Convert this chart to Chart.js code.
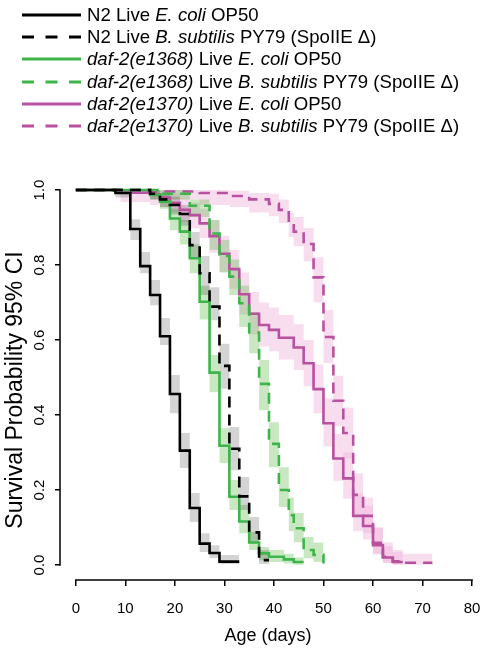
<!DOCTYPE html>
<html>
<head>
<meta charset="utf-8">
<script src="https://cdn.jsdelivr.net/npm/chart.js@4.4.1/dist/chart.umd.min.js"></script>
<style>
  html, body { margin: 0; padding: 0; background: #fff; }
  #wrap { position: relative; width: 480px; height: 654px; font-family: "Liberation Sans", Arial, sans-serif; }
  .row { position: absolute; left: 22px; height: 22px; display: flex; align-items: center; font-size: 18.6px; color: #000; white-space: nowrap; }
  .row svg { margin-right: 6px; flex: none; }
  canvas { position: absolute; left: 0; top: 0; }
</style>
</head>
<body>
<div id="wrap">
  <canvas id="survChart" width="480" height="654"></canvas>
  <div id="legend"></div>
</div>
<script>
// axis ticks
const xTicks = [0, 10, 20, 30, 40, 50, 60, 70, 80];
const yTicks = [0, 0.2, 0.4, 0.6, 0.8, 1.0];

// N2 Live E. coli OP50
const n2EcoliT     = [0, 8, 11, 13, 15, 17, 19, 21, 23, 25, 27, 29, 33];
const n2EcoliS     = [1, 0.992, 0.896, 0.797, 0.72, 0.61, 0.456, 0.305, 0.152, 0.057, 0.032, 0.009, 0.009];
const n2EcoliLo    = [1, 0.98, 0.867, 0.778, 0.693, 0.587, 0.405, 0.259, 0.115, 0.035, 0.019, 0.003, 0.003];
const n2EcoliHi    = [1, 1, 0.922, 0.835, 0.76, 0.659, 0.507, 0.352, 0.192, 0.085, 0.053, 0.027, 0.027];

// N2 Live B. subtilis PY79
const n2BsubT      = [0, 15, 17, 19, 21, 23, 25, 27, 29, 31, 33, 35, 37, 39];
const n2BsubS      = [1, 0.99, 0.975, 0.96, 0.936, 0.853, 0.778, 0.689, 0.531, 0.31, 0.183, 0.087, 0.013, 0.013];
const n2BsubLo     = [1, 0.975, 0.955, 0.935, 0.905, 0.821, 0.72, 0.653, 0.47, 0.253, 0.147, 0.059, 0.003, 0.003];
const n2BsubHi     = [1, 1, 0.99, 0.982, 0.96, 0.888, 0.824, 0.741, 0.59, 0.368, 0.235, 0.128, 0.04, 0.04];

// daf-2(e1368) Live E. coli OP50
const d1368EcoliT  = [0, 15, 17, 19, 21, 23, 25, 27, 29, 31, 33, 35, 37, 39, 42, 44, 46];
const d1368EcoliS  = [1, 0.987, 0.969, 0.924, 0.889, 0.818, 0.702, 0.513, 0.318, 0.182, 0.116, 0.06, 0.031, 0.022, 0.015, 0.008, 0.008];
const d1368EcoliLo = [1, 0.975, 0.95, 0.893, 0.855, 0.778, 0.655, 0.461, 0.272, 0.147, 0.085, 0.04, 0.013, 0.008, 0.004, 0.001, 0.001];
const d1368EcoliHi = [1, 0.998, 0.985, 0.95, 0.92, 0.855, 0.745, 0.56, 0.365, 0.227, 0.16, 0.088, 0.048, 0.04, 0.03, 0.02, 0.02];

// daf-2(e1368) Live B. subtilis PY79
const d1368BsubT   = [0, 17, 23, 27, 29, 31, 33, 35, 37, 39, 41, 43, 44, 46, 48, 50];
const d1368BsubS   = [1, 0.99, 0.958, 0.884, 0.824, 0.769, 0.698, 0.62, 0.483, 0.323, 0.2, 0.133, 0.098, 0.04, 0.027, 0.004];
const d1368BsubLo  = [1, 0.975, 0.928, 0.84, 0.78, 0.72, 0.635, 0.565, 0.413, 0.261, 0.155, 0.09, 0.061, 0.018, 0.008, 0.001];
const d1368BsubHi  = [1, 1, 0.975, 0.92, 0.867, 0.815, 0.745, 0.675, 0.547, 0.381, 0.261, 0.18, 0.139, 0.075, 0.06, 0.02];

// daf-2(e1370) Live E. coli OP50
const d1370EcoliT  = [0, 9, 15, 17, 19, 21, 23, 25, 27, 29, 31, 33, 35, 37, 39, 41, 44, 46, 48, 50, 52, 54, 56, 58, 60, 62, 64, 66];
const d1370EcoliS  = [1, 0.993, 0.988, 0.98, 0.966, 0.947, 0.933, 0.911, 0.877, 0.83, 0.789, 0.722, 0.67, 0.64, 0.627, 0.606, 0.58, 0.538, 0.469, 0.378, 0.284, 0.231, 0.131, 0.104, 0.053, 0.02, 0.008, 0.008];
const d1370EcoliLo = [1, 0.968, 0.96, 0.955, 0.94, 0.915, 0.898, 0.872, 0.833, 0.782, 0.737, 0.668, 0.615, 0.583, 0.57, 0.548, 0.52, 0.477, 0.405, 0.316, 0.225, 0.177, 0.09, 0.068, 0.028, 0.006, 0.001, 0.001];
const d1370EcoliHi = [1, 1, 1, 0.998, 0.99, 0.978, 0.967, 0.95, 0.92, 0.878, 0.84, 0.78, 0.728, 0.7, 0.687, 0.667, 0.642, 0.6, 0.535, 0.445, 0.35, 0.3, 0.19, 0.158, 0.1, 0.06, 0.04, 0.04];

// daf-2(e1370) Live B. subtilis PY79
const d1370BsubT   = [0, 15, 25, 31, 35, 39, 41, 43, 44, 46, 48, 50, 52, 54, 56, 58, 60, 62, 64, 66, 72];
const d1370BsubS   = [1, 0.996, 0.992, 0.984, 0.975, 0.963, 0.947, 0.91, 0.889, 0.856, 0.767, 0.608, 0.438, 0.352, 0.187, 0.131, 0.059, 0.022, 0.01, 0.006, 0.006];
const d1370BsubLo  = [1, 0.975, 0.96, 0.955, 0.94, 0.93, 0.912, 0.875, 0.85, 0.81, 0.701, 0.539, 0.37, 0.285, 0.135, 0.085, 0.03, 0.006, 0.002, 0.001, 0.001];
const d1370BsubHi  = [1, 1, 1, 0.998, 0.992, 0.99, 0.975, 0.94, 0.928, 0.899, 0.821, 0.68, 0.505, 0.42, 0.245, 0.18, 0.1, 0.05, 0.035, 0.03, 0.03];

const BLACK = '#000000';
const GREEN = '#3db54a';
const MAGENTA = '#b8519f';
const BAND_GRAY = 'rgba(0,0,0,0.17)';
const BAND_GREEN = 'rgba(100,190,80,0.35)';
const BAND_PINK = 'rgba(240,180,220,0.45)';

const series = [
  { label: 'N2 E. coli', t: n2EcoliT, s: n2EcoliS, lo: n2EcoliLo, hi: n2EcoliHi, color: BLACK, band: BAND_GRAY, dashed: false },
  { label: 'N2 B. subtilis', t: n2BsubT, s: n2BsubS, lo: n2BsubLo, hi: n2BsubHi, color: BLACK, band: BAND_GRAY, dashed: true },
  { label: 'e1368 E. coli', t: d1368EcoliT, s: d1368EcoliS, lo: d1368EcoliLo, hi: d1368EcoliHi, color: GREEN, band: BAND_GREEN, dashed: false },
  { label: 'e1368 B. subtilis', t: d1368BsubT, s: d1368BsubS, lo: d1368BsubLo, hi: d1368BsubHi, color: GREEN, band: BAND_GREEN, dashed: true },
  { label: 'e1370 E. coli', t: d1370EcoliT, s: d1370EcoliS, lo: d1370EcoliLo, hi: d1370EcoliHi, color: MAGENTA, band: BAND_PINK, dashed: false },
  { label: 'e1370 B. subtilis', t: d1370BsubT, s: d1370BsubS, lo: d1370BsubLo, hi: d1370BsubHi, color: MAGENTA, band: BAND_PINK, dashed: true }
];

const pts = (t, v) => t.map((d, i) => ({ x: d, y: v[i] }));

// build datasets: survival lines first (drawn on top), then CI band pairs
const datasets = [];
series.forEach((sr, i) => {
  datasets.push({
    label: sr.label,
    data: pts(sr.t, sr.s),
    borderColor: sr.color,
    borderWidth: 2.6,
    borderDash: sr.dashed ? [11, 7] : [],
    stepped: true,
    pointRadius: 0,
    fill: false,
    order: i
  });
});
series.forEach((sr, i) => {
  datasets.push({
    label: sr.label + ' upper',
    data: pts(sr.t, sr.hi),
    borderWidth: 0,
    borderColor: 'rgba(0,0,0,0)',
    backgroundColor: sr.band,
    stepped: true,
    pointRadius: 0,
    fill: '+1',
    order: 10 + i
  });
  datasets.push({
    label: sr.label + ' lower',
    data: pts(sr.t, sr.lo),
    borderWidth: 0,
    borderColor: 'rgba(0,0,0,0)',
    stepped: true,
    pointRadius: 0,
    fill: false,
    order: 10 + i
  });
});

// R style detached axes, rotated y labels
const rAxes = {
  id: 'rAxes',
  afterDraw(chart) {
    const { ctx, chartArea, scales: { x, y } } = chart;
    ctx.save();
    ctx.strokeStyle = '#000';
    ctx.lineWidth = 1.5;
    ctx.beginPath();
    ctx.moveTo(x.getPixelForValue(xTicks[0]) - 0.75, chartArea.bottom);
    ctx.lineTo(x.getPixelForValue(xTicks[xTicks.length - 1]) + 0.75, chartArea.bottom);
    ctx.moveTo(chartArea.left, y.getPixelForValue(yTicks[0]) + 0.75);
    ctx.lineTo(chartArea.left, y.getPixelForValue(yTicks[yTicks.length - 1]) - 0.75);
    ctx.stroke();

    ctx.fillStyle = '#000';
    ctx.textAlign = 'center';
    ctx.textBaseline = 'middle';
    ctx.font = '15px "Liberation Sans", Arial, sans-serif';
    yTicks.forEach(v => {
      ctx.save();
      ctx.translate(40, y.getPixelForValue(v));
      ctx.rotate(-Math.PI / 2);
      ctx.fillText(v.toFixed(1), 0, 0);
      ctx.restore();
    });

    ctx.font = '23px "Liberation Sans", Arial, sans-serif';
    ctx.save();
    ctx.translate(16, 390);
    ctx.rotate(-Math.PI / 2);
    ctx.fillText('Survival Probability 95% CI', 0, 0);
    ctx.restore();
    ctx.restore();
  }
};

new Chart(document.getElementById('survChart'), {
  type: 'line',
  data: { datasets },
  options: {
    responsive: false,
    animation: false,
    layout: { padding: { top: 175, right: 4, left: 0, bottom: 0 } },
    plugins: { legend: { display: false }, tooltip: { enabled: false } },
    scales: {
      x: {
        type: 'linear',
        min: -3.2,
        max: 80.8,
        afterBuildTicks: scale => { scale.ticks = xTicks.map(v => ({ value: v })); },
        afterFit: scale => { scale.height = 74; scale.paddingLeft = 0; scale.paddingRight = 0; },
        border: { display: false },
        grid: { drawOnChartArea: false, drawTicks: true, tickLength: 6, color: '#000', lineWidth: 1.5 },
        ticks: {
          color: '#000',
          padding: 14,
          maxRotation: 0,
          font: { family: '"Liberation Sans", Arial, sans-serif', size: 15 }
        },
        title: {
          display: true,
          text: 'Age (days)',
          color: '#000',
          font: { family: '"Liberation Sans", Arial, sans-serif', size: 18 },
          padding: { top: 0, bottom: 7 }
        }
      },
      y: {
        type: 'linear',
        min: -0.04,
        max: 1.04,
        afterBuildTicks: scale => { scale.ticks = yTicks.map(v => ({ value: v })); },
        afterFit: scale => { scale.width = 60; scale.paddingTop = 0; scale.paddingBottom = 0; },
        border: { display: false },
        grid: { drawOnChartArea: false, drawTicks: true, tickLength: 5, color: '#000', lineWidth: 1.5 },
        ticks: { display: false }
      }
    }
  },
  plugins: [rAxes]
});

// legend (HTML, so italics can be mixed in)
const legendRows = [
  { html: 'N2 Live <i>E. coli</i> OP50', color: BLACK, dashed: false },
  { html: 'N2 Live <i>B. subtilis</i> PY79 (SpoIIE \u0394)', color: BLACK, dashed: true },
  { html: '<i>daf-2(e1368)</i> Live <i>E. coli</i> OP50', color: GREEN, dashed: false },
  { html: '<i>daf-2(e1368)</i> Live <i>B. subtilis</i> PY79 (SpoIIE \u0394)', color: GREEN, dashed: true },
  { html: '<i>daf-2(e1370)</i> Live <i>E. coli</i> OP50', color: MAGENTA, dashed: false },
  { html: '<i>daf-2(e1370)</i> Live <i>B. subtilis</i> PY79 (SpoIIE \u0394)', color: MAGENTA, dashed: true }
];
const legend = document.getElementById('legend');
legendRows.forEach((r, i) => {
  const row = document.createElement('div');
  row.className = 'row';
  row.style.top = (4 + i * 22.2) + 'px';
  const dash = r.dashed ? ' stroke-dasharray="12 11.5"' : '';
  row.innerHTML = '<svg width="59" height="6"><line x1="0" y1="3" x2="59" y2="3" stroke="' + r.color +
    '" stroke-width="3"' + dash + '/></svg><span>' + r.html + '</span>';
  legend.appendChild(row);
});
</script>
</body>
</html>
